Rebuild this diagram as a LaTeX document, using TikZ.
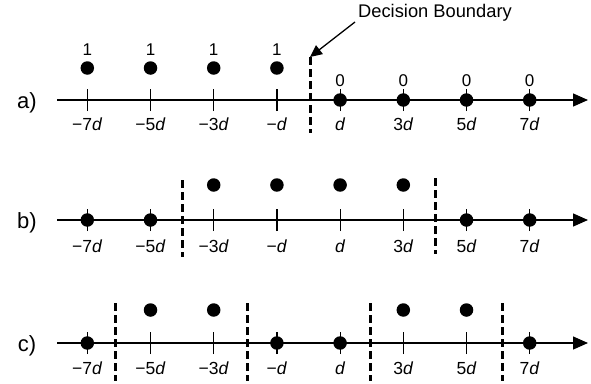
\documentclass[tikz,border=0pt]{standalone}
\usepackage{fontspec}
\setmainfont{Liberation Sans}
\usetikzlibrary{arrows.meta}
\tikzset{
  axisline/.style={line width=1.3pt,-{Triangle[length=15pt,width=13pt]}},
  tickmark/.style={line width=1.2pt},
  dot/.style={circle,fill=black,inner sep=0pt,minimum size=13.5pt},
  boundary/.style={line width=3pt,dash pattern=on 8pt off 4pt},
  ticklabel/.style={font=\fontsize{17.5}{17}\selectfont,inner sep=0pt},
  classlabel/.style={font=\fontsize{17}{17}\selectfont,inner sep=0pt},
  rowlabel/.style={font=\fontsize{22}{22}\selectfont,inner sep=0pt},
  pointer/.style={line width=1.3pt,-{Triangle[length=12pt,width=11pt]}}
}
\newcommand{\tl}[1]{#1\textit{d}}
\begin{document}
\begin{tikzpicture}[x=1pt,y=-1pt]
\useasboundingbox (0,0) rectangle (591,383);
% tick x positions
\def\xa{87.3}\def\xb{150.5}\def\xc{213.7}\def\xd{276.9}
\def\xe{340.1}\def\xf{403.3}\def\xg{466.5}\def\xh{529.7}
% ---------------- row a ----------------
\node[rowlabel] (la) at (27,103) {a)};
\coordinate (as) at (57,100);
\coordinate (ae) at (588,100);
\draw[axisline] (as) -- (ae);
\foreach \x/\n/\t in {\xa/1/−7,\xb/2/−5,\xc/3/−3,\xd/4/−,\xe/5/,\xf/6/3,\xg/7/5,\xh/8/7}{
  \coordinate (at\n) at (\x,100);
  \draw[tickmark] ([yshift=-11pt]at\n) -- ([yshift=11pt]at\n);
  \node[ticklabel] (al\n) at (\x,124) {\tl{\t}};
}
\foreach \x/\n in {\xa/1,\xb/2,\xc/3,\xd/4}{
  \node[dot] (ad\n) at (\x,68) {};
  \node[classlabel] (ac\n) at (\x,50) {1};
}
\foreach \x/\n in {\xe/5,\xf/6,\xg/7,\xh/8}{
  \node[dot] (ad\n) at (\x,100) {};
  \node[classlabel] (ac\n) at (\x,81) {0};
}
\coordinate (ab1) at (310,57);
\coordinate (ab2) at (310,133);
\draw[boundary] (ab1) -- (ab2);
\node[font=\fontsize{18.3}{18}\selectfont,inner sep=0pt] (db) at (435,13) {Decision Boundary};
\draw[pointer] (355,22) -- (ab1);
% ---------------- row b ----------------
\node[rowlabel] (lb) at (27,223) {b)};
\coordinate (bs) at (57,220);
\coordinate (be) at (588,220);
\draw[axisline] (bs) -- (be);
\foreach \x/\n/\t in {\xa/1/−7,\xb/2/−5,\xc/3/−3,\xd/4/−,\xe/5/,\xf/6/3,\xg/7/5,\xh/8/7}{
  \coordinate (bt\n) at (\x,220);
  \draw[tickmark] ([yshift=-11pt]bt\n) -- ([yshift=11pt]bt\n);
  \node[ticklabel] (bl\n) at (\x,246) {\tl{\t}};
}
\foreach \x/\n in {\xa/1,\xb/2,\xg/7,\xh/8}{
  \node[dot] (bd\n) at (\x,220) {};
}
\foreach \x/\n in {\xc/3,\xd/4,\xe/5,\xf/6}{
  \node[dot] (bd\n) at (\x,185) {};
}
\coordinate (bb1) at (182,180);
\coordinate (bb2) at (182,257);
\coordinate (bb3) at (435,178);
\coordinate (bb4) at (435,254);
\draw[boundary] (bb1) -- (bb2);
\draw[boundary] (bb3) -- (bb4);
% ---------------- row c ----------------
\node[rowlabel] (lc) at (27,346) {c)};
\coordinate (cs) at (57,343);
\coordinate (ce) at (588,343);
\draw[axisline] (cs) -- (ce);
\foreach \x/\n/\t in {\xa/1/−7,\xb/2/−5,\xc/3/−3,\xd/4/−,\xe/5/,\xf/6/3,\xg/7/5,\xh/8/7}{
  \coordinate (ct\n) at (\x,343);
  \draw[tickmark] ([yshift=-11pt]ct\n) -- ([yshift=11pt]ct\n);
  \node[ticklabel] (cl\n) at (\x,368) {\tl{\t}};
}
\foreach \x/\n in {\xa/1,\xd/4,\xe/5,\xh/8}{
  \node[dot] (cd\n) at (\x,343) {};
}
\foreach \x/\n in {\xb/2,\xc/3,\xf/6,\xg/7}{
  \node[dot] (cd\n) at (\x,310) {};
}
\foreach \x/\n in {115/1,247/2,370/3,502/4}{
  \coordinate (cbt\n) at (\x,303);
  \coordinate (cbb\n) at (\x,381);
  \draw[boundary] (cbt\n) -- (cbb\n);
}
\end{tikzpicture}
\end{document}
